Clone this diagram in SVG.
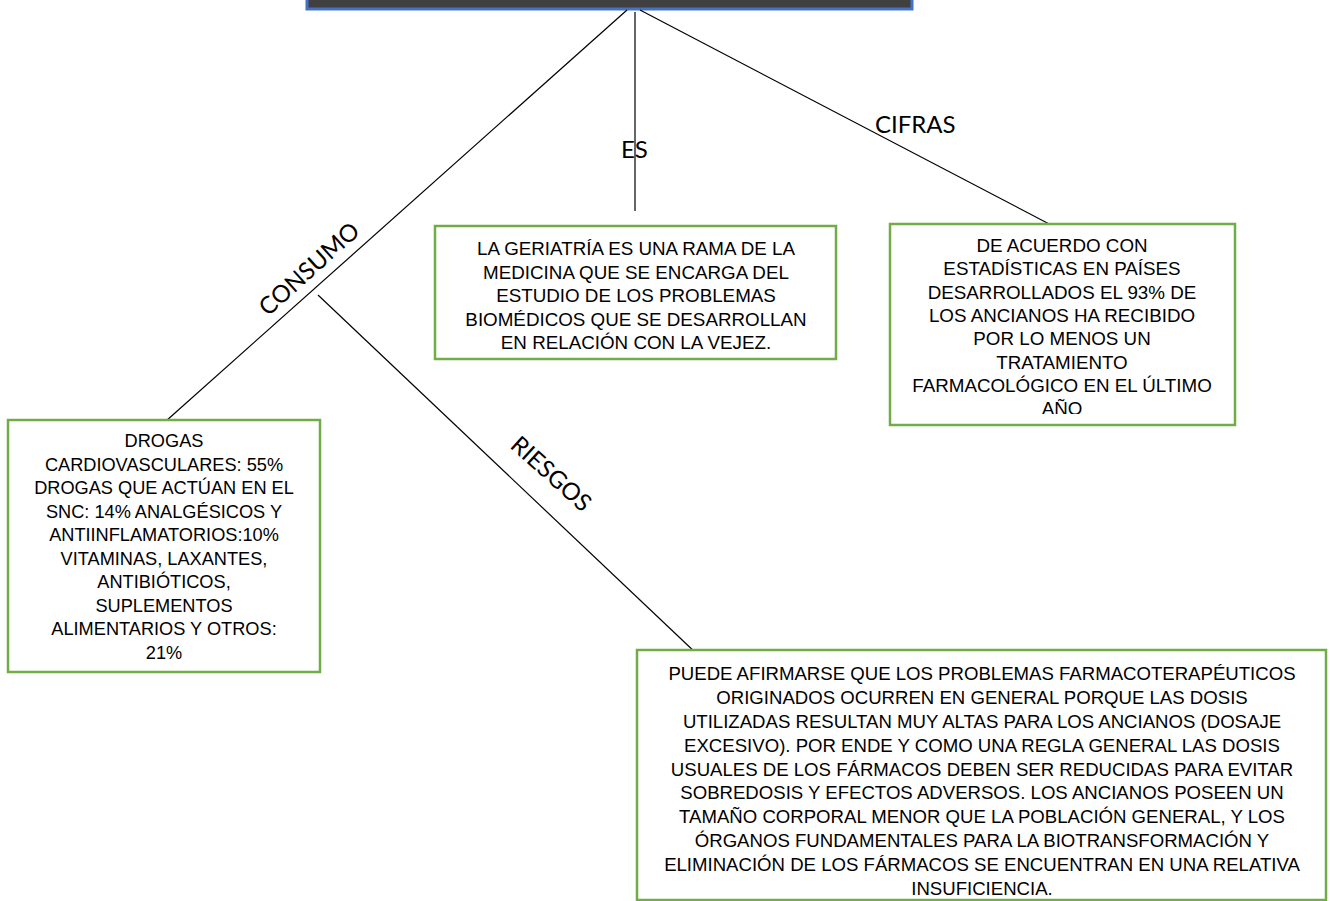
<svg xmlns="http://www.w3.org/2000/svg" width="1330" height="901" viewBox="0 0 1330 901">
<style>
.box{fill:#fff;stroke:#70ad47;stroke-width:2.5}
.t{font-family:"Liberation Sans",Arial,sans-serif;font-size:18.8px;fill:#000;text-anchor:middle}
.lbl{font-family:Lato,"Open Sans",sans-serif;font-size:24px;fill:#000}
.ln{stroke:#000;stroke-width:1.2;fill:none}
</style>
<defs>
<clipPath id="cifClip"><rect x="890" y="224" width="345" height="190"/></clipPath>
</defs>
<rect width="1330" height="901" fill="#fff"/>
<g id="title">
<rect x="307" y="-10" width="605" height="19" fill="#404040" stroke="#4472c4" stroke-width="3"/>
</g>
<g id="connectors">
<line class="ln" x1="627" y1="10" x2="166" y2="421"/>
<line class="ln" x1="635" y1="12" x2="635" y2="211"/>
<line class="ln" x1="640" y1="10" x2="1053" y2="226"/>
<line class="ln" x1="318" y1="295" x2="698" y2="655"/>
<text class="lbl" x="621" y="158">ES</text>
<text class="lbl" x="875" y="133">CIFRAS</text>
<text class="lbl" transform="translate(268,317) rotate(-42)">CONSUMO</text>
<text class="lbl" transform="translate(509,447) rotate(42)">RIESGOS</text>
</g>
<g id="es">
<rect class="box" x="435" y="226" width="401" height="133"/>
<text class="t"><tspan x="636" y="255">LA GERIATRÍA ES UNA RAMA DE LA</tspan><tspan x="636" y="278.5">MEDICINA QUE SE ENCARGA DEL</tspan><tspan x="636" y="302">ESTUDIO DE LOS PROBLEMAS</tspan><tspan x="636" y="325.5">BIOMÉDICOS QUE SE DESARROLLAN</tspan><tspan x="636" y="349">EN RELACIÓN CON LA VEJEZ.</tspan></text>
</g>
<g id="cifras">
<rect class="box" x="890" y="224" width="345" height="201"/>
<text class="t" clip-path="url(#cifClip)"><tspan x="1062" y="252">DE ACUERDO CON</tspan><tspan x="1062" y="275.3">ESTADÍSTICAS EN PAÍSES</tspan><tspan x="1062" y="298.7">DESARROLLADOS EL 93% DE</tspan><tspan x="1062" y="322">LOS ANCIANOS HA RECIBIDO</tspan><tspan x="1062" y="345.3">POR LO MENOS UN</tspan><tspan x="1062" y="368.7">TRATAMIENTO</tspan><tspan x="1062" y="392">FARMACOLÓGICO EN EL ÚLTIMO</tspan><tspan x="1062" y="415.3">AÑO</tspan></text>
</g>
<g id="consumo">
<rect class="box" x="8" y="420" width="312" height="252"/>
<text class="t" style="font-size:18.2px"><tspan x="164" y="447">DROGAS</tspan><tspan x="164" y="470.5">CARDIOVASCULARES: 55%</tspan><tspan x="164" y="494">DROGAS QUE ACTÚAN EN EL</tspan><tspan x="164" y="517.5">SNC: 14% ANALGÉSICOS Y</tspan><tspan x="164" y="541">ANTIINFLAMATORIOS:10%</tspan><tspan x="164" y="564.5">VITAMINAS, LAXANTES,</tspan><tspan x="164" y="588">ANTIBIÓTICOS,</tspan><tspan x="164" y="611.5">SUPLEMENTOS</tspan><tspan x="164" y="635">ALIMENTARIOS Y OTROS:</tspan><tspan x="164" y="658.5">21%</tspan></text>
</g>
<g id="riesgos">
<rect class="box" x="637" y="650" width="689" height="250"/>
<text class="t" style="font-size:18.6px"><tspan x="982" y="680">PUEDE AFIRMARSE QUE LOS PROBLEMAS FARMACOTERAPÉUTICOS</tspan><tspan x="982" y="704">ORIGINADOS OCURREN EN GENERAL PORQUE LAS DOSIS</tspan><tspan x="982" y="728">UTILIZADAS RESULTAN MUY ALTAS PARA LOS ANCIANOS (DOSAJE</tspan><tspan x="982" y="751.5">EXCESIVO). POR ENDE Y COMO UNA REGLA GENERAL LAS DOSIS</tspan><tspan x="982" y="775.5">USUALES DE LOS FÁRMACOS DEBEN SER REDUCIDAS PARA EVITAR</tspan><tspan x="982" y="799">SOBREDOSIS Y EFECTOS ADVERSOS. LOS ANCIANOS POSEEN UN</tspan><tspan x="982" y="823">TAMAÑO CORPORAL MENOR QUE LA POBLACIÓN GENERAL, Y LOS</tspan><tspan x="982" y="847">ÓRGANOS FUNDAMENTALES PARA LA BIOTRANSFORMACIÓN Y</tspan><tspan x="982" y="871">ELIMINACIÓN DE LOS FÁRMACOS SE ENCUENTRAN EN UNA RELATIVA</tspan><tspan x="982" y="894.5">INSUFICIENCIA.</tspan></text>
</g>
</svg>
